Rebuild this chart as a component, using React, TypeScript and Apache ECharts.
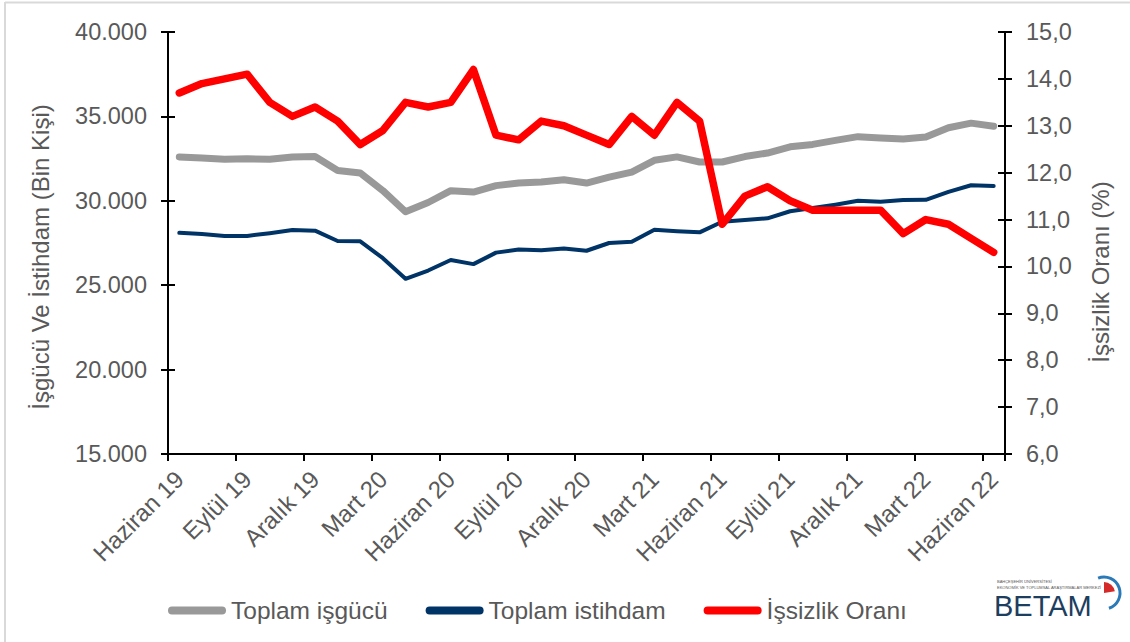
import React, { useEffect, useRef } from "react";
import * as echarts from "echarts";

const months: string[] = [
  "Haziran 19", "Temmuz 19", "Ağustos 19", "Eylül 19", "Ekim 19", "Kasım 19", "Aralık 19",
  "Ocak 20", "Şubat 20", "Mart 20", "Nisan 20", "Mayıs 20", "Haziran 20", "Temmuz 20",
  "Ağustos 20", "Eylül 20", "Ekim 20", "Kasım 20", "Aralık 20", "Ocak 21", "Şubat 21",
  "Mart 21", "Nisan 21", "Mayıs 21", "Haziran 21", "Temmuz 21", "Ağustos 21", "Eylül 21",
  "Ekim 21", "Kasım 21", "Aralık 21", "Ocak 22", "Şubat 22", "Mart 22", "Nisan 22",
  "Mayıs 22", "Haziran 22",
];

const laborForce: number[] = [
  32600, 32530, 32460, 32490, 32460, 32600, 32620, 31800, 31650, 30600,
  29350, 29900, 30600, 30520, 30900, 31050, 31110, 31250, 31050, 31400,
  31700, 32400, 32600, 32300, 32300, 32620, 32830, 33200, 33340, 33580,
  33800, 33720, 33660, 33780, 34330, 34600, 34420,
];

const employment: number[] = [
  28100, 28030, 27920, 27920, 28080, 28270, 28230, 27620, 27600, 26600,
  25380, 25870, 26490, 26250, 26930, 27110, 27070, 27180, 27040, 27500,
  27570, 28280, 28200, 28130, 28760, 28860, 28960, 29380, 29570, 29770,
  30000, 29950, 30050, 30060, 30530, 30920, 30880,
];

const unemploymentRate: number[] = [
  13.7, 13.9, 14.0, 14.1, 13.5, 13.2, 13.4, 13.1, 12.6, 12.9,
  13.5, 13.4, 13.5, 14.2, 12.8, 12.7, 13.1, 13.0, 12.8, 12.6,
  13.2, 12.8, 13.5, 13.1, 10.9, 11.5, 11.7, 11.4, 11.2, 11.2,
  11.2, 11.2, 10.7, 11.0, 10.9, 10.6, 10.3,
];

const seriesNames: string[] = ["Toplam işgücü", "Toplam istihdam", "İşsizlik Oranı"];
const leftAxisTitle = "İşgücü Ve İstihdam (Bin Kişi)";
const rightAxisTitle = "İşsizlik Oranı (%)";

const FONT = '"Liberation Sans", Arial, sans-serif';
const TXT = "#595959";

const fmtThousands = (v: number) => {
  const s = Math.round(v).toString();
  return s.replace(/\B(?=(\d{3})+(?!\d))/g, ".");
};
const fmtComma = (v: number) => v.toFixed(1).replace(".", ",");

export default function App() {
  const ref = useRef<HTMLDivElement>(null);

  useEffect(() => {
    if (!ref.current) return;
    const chart = echarts.init(ref.current, undefined, { renderer: "svg" });

    const baseY = (pos: "left" | "right", min: number, max: number, interval: number, fmt: (v: number) => string) => ({
      type: "value",
      position: pos,
      min,
      max,
      interval,
      axisLine: { show: true, lineStyle: { color: "#000", width: 2 } },
      axisTick: { show: true, inside: false, length: 7, lineStyle: { color: "#000", width: 2 } },
      axisLabel: { show: true, formatter: fmt, color: TXT, fontSize: 23.5, fontFamily: FONT, margin: 21 },
      splitLine: { show: false },
    });
    const innerY = (pos: "left" | "right", min: number, max: number, interval: number) => ({
      type: "value",
      position: pos,
      min,
      max,
      interval,
      axisLine: { show: false },
      axisTick: { show: true, inside: true, length: 7, lineStyle: { color: "#000", width: 2 } },
      axisLabel: { show: false },
      splitLine: { show: false },
    });

    const legendIcon = "path://M4,0 H54 A4,4 0 0 1 54,8 H4 A4,4 0 0 1 4,0 Z";

    chart.setOption({
      animation: false,
      backgroundColor: "#ffffff",
      grid: { left: 168, right: 125, top: 32, bottom: 188, containLabel: false },
      legend: {
        left: 163,
        top: 593,
        itemWidth: 58,
        itemHeight: 8,
        itemGap: 38,
        textStyle: { color: TXT, fontSize: 24.5, fontFamily: FONT },
        data: seriesNames.map((n) => ({ name: n, icon: legendIcon })),
      },
      xAxis: {
        type: "category",
        data: months,
        boundaryGap: true,
        axisLine: { show: true, lineStyle: { color: "#000", width: 2 } },
        axisTick: { show: true, interval: 2, length: 7, lineStyle: { color: "#000", width: 2 } },
        axisLabel: {
          interval: 2,
          rotate: 45,
          color: TXT,
          fontSize: 24,
          fontFamily: FONT,
          margin: 21,
        },
        splitLine: { show: false },
      },
      yAxis: [
        baseY("left", 15000, 40000, 5000, fmtThousands),
        baseY("right", 6, 15, 1, fmtComma),
        innerY("left", 15000, 40000, 5000),
        innerY("right", 6, 15, 1),
      ],
      series: [
        {
          name: seriesNames[0],
          type: "line",
          yAxisIndex: 0,
          data: laborForce,
          symbol: "none",
          color: "#999999",
          lineStyle: { color: "#999999", width: 7, cap: "round", join: "round" },
          z: 2,
        },
        {
          name: seriesNames[1],
          type: "line",
          yAxisIndex: 0,
          data: employment,
          symbol: "none",
          color: "#003366",
          lineStyle: { color: "#003366", width: 4, cap: "round", join: "round" },
          z: 3,
        },
        {
          name: seriesNames[2],
          type: "line",
          yAxisIndex: 1,
          data: unemploymentRate,
          symbol: "none",
          color: "#ff0000",
          lineStyle: { color: "#ff0000", width: 7.5, cap: "round", join: "round" },
          z: 4,
        },
      ],
      graphic: [
        { type: "line", shape: { x1: 5, y1: 2.5, x2: 1130, y2: 2.5 }, style: { stroke: "#d9d9d9", lineWidth: 2 }, silent: true },
        { type: "line", shape: { x1: 5, y1: 2, x2: 5, y2: 642 }, style: { stroke: "#d9d9d9", lineWidth: 2 }, silent: true },
        {
          type: "text",
          x: 40,
          y: 257,
          rotation: Math.PI / 2,
          style: { text: leftAxisTitle, fill: TXT, fontSize: 24, fontFamily: FONT, align: "center", verticalAlign: "middle" },
        },
        {
          type: "text",
          x: 1100,
          y: 272,
          rotation: Math.PI / 2,
          style: { text: rightAxisTitle, fill: TXT, fontSize: 24, fontFamily: FONT, align: "center", verticalAlign: "middle" },
        },
        {
          type: "text",
          x: 994,
          y: 620,
          style: { text: "BETAM", fill: "#1d3e5e", fontSize: 29, fontFamily: FONT, align: "left", verticalAlign: "bottom" },
        },
        {
          type: "text",
          x: 997,
          y: 581,
          style: { text: "BAHÇEŞEHİR ÜNİVERSİTESİ", fill: "#555", fontSize: 4, fontFamily: FONT, align: "left", verticalAlign: "middle" },
        },
        {
          type: "text",
          x: 997,
          y: 587,
          style: { text: "EKONOMİK VE TOPLUMSAL ARAŞTIRMALAR MERKEZİ", fill: "#555", fontSize: 4, fontFamily: FONT, align: "left", verticalAlign: "middle" },
        },
        {
          type: "arc",
          shape: { cx: 1104, cy: 593, r: 16, startAngle: -Math.PI * 0.62, endAngle: Math.PI * 0.4, clockwise: true },
          style: { stroke: "#2a7ab8", lineWidth: 3, fill: "none" },
        },
        {
          type: "sector",
          shape: { cx: 1104, cy: 593, r: 11, r0: 0, startAngle: -Math.PI * 0.5, endAngle: -Math.PI * 0.05, clockwise: true },
          style: { fill: "#d42a2a" },
        },
      ],
    });

    return () => chart.dispose();
  }, []);

  return (
    <div
      ref={ref}
      style={{ position: "absolute", left: 0, top: 0, width: 1130, height: 642, background: "#fff" }}
    />
  );
}
